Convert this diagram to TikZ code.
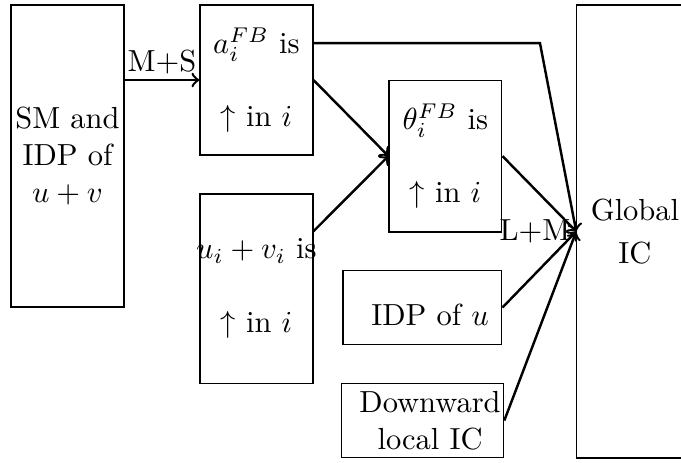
\documentclass[tikz,border=0pt]{standalone}
\usetikzlibrary{calc,positioning}

\tikzset{
    box/.style={draw, minimum width=1.3cm, align=center, inner sep=1pt},
    flow/.style={->, thick},
    tag/.style={inner sep=1.5pt},
}

\begin{document}
\begin{tikzpicture}
    \useasboundingbox (0,0) rectangle (7.846,5.323);

    % left column
    \node[box, minimum height=3.48cm] (sm) at (0.778,3.525) {SM and\\IDP of\\$u+v$};

    % monotonicity boxes
    \node[box, minimum height=1.73cm] (afb) at (2.955,4.401) {$a_i^{FB}$ is\\[12pt]$\uparrow$ in $i$};
    \node[box, minimum height=2.18cm] (uv) at (2.955,1.999) {\makebox[0pt]{$u_i+v_i$ is}\\[12pt]$\uparrow$ in $i$};
    \node[box, minimum height=1.75cm] (thfb) at (5.132,3.525) {$\theta_i^{FB}$ is\\[12pt]$\uparrow$ in $i$};

    % other conditions
    \node[box, minimum width=1.83cm, minimum height=0.86cm] (idpu) at (4.867,1.780) {\hspace*{5pt}\raisebox{-2.5pt}[\height][\depth]{IDP of $u$}};
    \node[box, minimum width=1.83cm, minimum height=0.86cm] (down) at (4.867,0.478) {\hspace*{5pt}Downward\\\hspace*{5pt}local IC};

    % target
    \node[box, minimum width=1.34cm, minimum height=5.22cm] (glob) at (7.316,2.656) {Global\\[2pt]IC};

    % arrows
    \draw[flow] (sm.east |- afb.west) -- node[above, tag] {M+S} (afb.west);
    \draw[flow] (afb.east) -- (thfb.west);
    \draw[flow] (uv) -- (thfb.west);
    \coordinate (bend) at (6.221,4.827);
    \draw[flow] (afb.east |- bend) -- (bend) -- (glob.west);
    \draw[flow] (thfb.east) -- (glob.west) node[left, tag] {L+M};
    \draw[flow] (idpu.east) -- (glob.west);
    \draw[flow] (down.east) -- (glob.west);
\end{tikzpicture}
\end{document}
